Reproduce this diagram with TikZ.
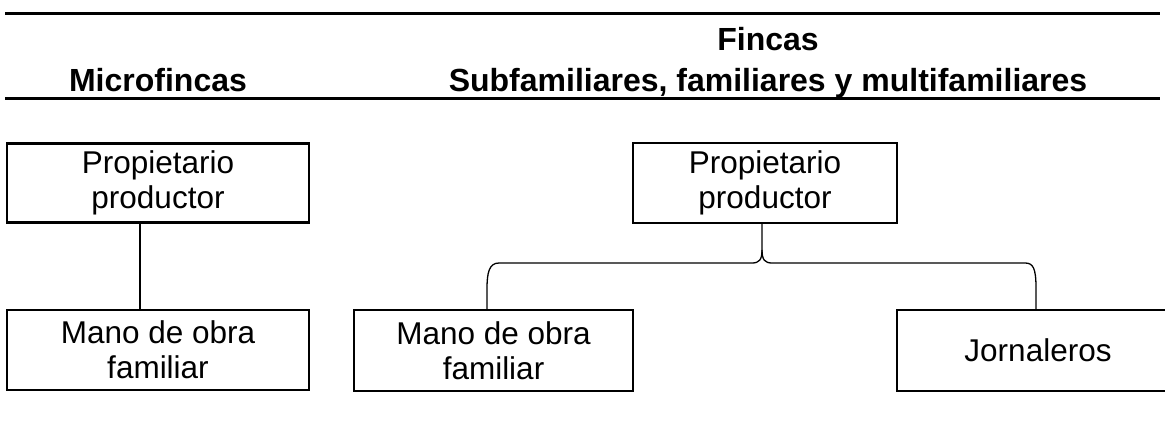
\documentclass[tikz,border=0pt]{standalone}
\usepackage{fontspec}
\setmainfont{Liberation Sans}
\begin{document}
\begin{tikzpicture}[x=0.5pt,y=-0.5pt,
  box/.style={draw, line width=1.1pt, rectangle, inner sep=0pt, align=center,
    font=\fontsize{15.75}{17.5}\selectfont},
  hdr/.style={font=\fontsize{16}{19}\selectfont\bfseries, inner sep=0pt, anchor=base},
  rule/.style={line width=1.5pt},
  conn/.style={line width=0.65pt}]
\useasboundingbox (0,0) rectangle (1165,421);
\clip (0,0) rectangle (1165,421);
% header rules
\coordinate (r1a) at (5,14); \coordinate (r1b) at (1160,14);
\coordinate (r2a) at (5,99); \coordinate (r2b) at (1160,99);
\draw[rule] (r1a) -- (r1b);
\draw[rule] (r2a) -- (r2b);
\node[hdr] (fincas) at (768,51) {Fincas};
\node[hdr] (micro) at (158,92) {Microfincas};
\node[hdr] (sub) at (768,92) {Subfamiliares, familiares y multifamiliares};
% boxes
\node[box, minimum width=151pt, minimum height=39.5pt] (p1) at (158,183) {Propietario\\productor};
\node[box, minimum width=151pt, minimum height=40pt] (m1) at (158,350) {Mano de obra\\familiar};
\node[box, minimum width=132pt, minimum height=40pt] (p2) at (765,183) {Propietario\\productor};
\node[box, minimum width=139.5pt, minimum height=40.5pt] (m2) at (493.5,350.5) {Mano de obra\\familiar};
\node[box, minimum width=141pt, minimum height=40.5pt] (j) at (1038,350.5) {Jornaleros};
% connectors
\draw[conn] (p1.south -| 140,0) -- (m1.north -| 140,0);
\draw[conn] ([xshift=-3.25pt]m2.north) -- ++(0,-20)
  .. controls ++(0,-16) and (489,263) .. (499,263) -- (752,263)
  .. controls (759,263) and (762,260) .. (762,250) -- (p2.south -| 762,0);
\draw[conn] (762,250) .. controls (762,260) and (765,263) .. (772,263) -- (1025,263)
  .. controls (1033,263) and (1036,268) .. (1036,288) -- ([xshift=-1pt]j.north);
\end{tikzpicture}
\end{document}
